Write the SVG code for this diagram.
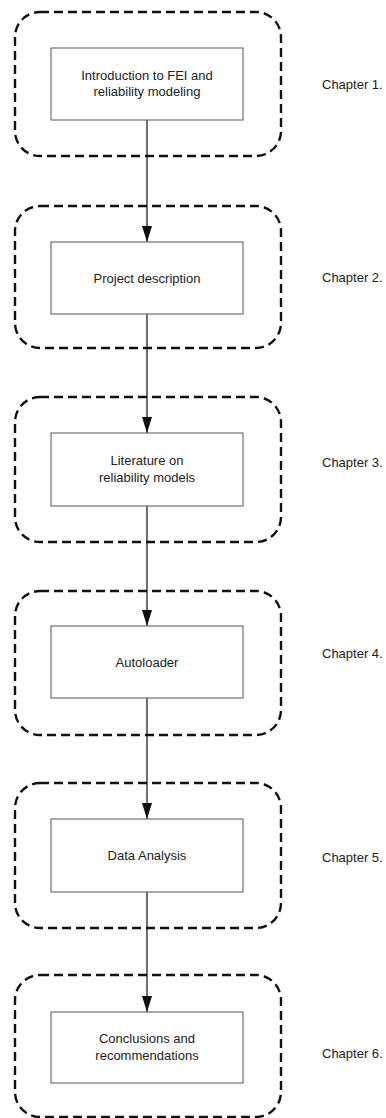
<svg xmlns="http://www.w3.org/2000/svg" width="386" height="1118" viewBox="0 0 386 1118">
  <defs>
    <style>
      .group { fill: none; stroke: #111; stroke-width: 2.4; stroke-dasharray: 9 5; }
      .box { fill: #fff; stroke: #555; stroke-width: 1; }
      .label { font-family: "Liberation Sans", Arial, sans-serif; font-size: 13px; fill: #222; text-anchor: middle; }
      .chapter { font-family: "Liberation Sans", Arial, sans-serif; font-size: 13px; fill: #222; }
      .flow { stroke: #111; stroke-width: 1.2; fill: none; marker-end: url(#arrow); }
    </style>
    <marker id="arrow" viewBox="0 0 16 10" refX="16" refY="5" markerWidth="16" markerHeight="10" markerUnits="userSpaceOnUse" orient="auto">
      <path d="M0,0 L16,5 L0,10 Z" fill="#111"/>
    </marker>
  </defs>
  <rect width="386" height="1118" fill="#fff"/>

  <!-- connectors between the chapter boxes -->
  <g id="connectors">
    <line class="flow" x1="147" y1="120" x2="147" y2="242"/>
    <line class="flow" x1="147" y1="314" x2="147" y2="433"/>
    <line class="flow" x1="147" y1="506" x2="147" y2="626"/>
    <line class="flow" x1="147" y1="698" x2="147" y2="819"/>
    <line class="flow" x1="147" y1="892" x2="147" y2="1012"/>
  </g>

  <g id="chapter1">
    <rect class="group" x="15" y="12" width="266" height="144" rx="25"/>
    <rect class="box" x="51" y="48" width="192" height="72"/>
    <text class="label" x="147" y="79.5">Introduction to FEI and</text>
    <text class="label" x="147" y="96">reliability modeling</text>
    <text class="chapter" x="322" y="88.5">Chapter 1.</text>
  </g>

  <g id="chapter2">
    <rect class="group" x="15" y="206" width="266" height="142" rx="25"/>
    <rect class="box" x="51" y="242" width="192" height="72"/>
    <text class="label" x="147" y="282.5">Project description</text>
    <text class="chapter" x="322" y="281.5">Chapter 2.</text>
  </g>

  <g id="chapter3">
    <rect class="group" x="15" y="397" width="266" height="145" rx="25"/>
    <rect class="box" x="51" y="433" width="192" height="73"/>
    <text class="label" x="147" y="465">Literature on</text>
    <text class="label" x="147" y="481.5">reliability models</text>
    <text class="chapter" x="322" y="466.5">Chapter 3.</text>
  </g>

  <g id="chapter4">
    <rect class="group" x="15" y="591" width="266" height="144" rx="25"/>
    <rect class="box" x="51" y="626" width="192" height="72"/>
    <text class="label" x="147" y="666.5">Autoloader</text>
    <text class="chapter" x="322" y="657.5">Chapter 4.</text>
  </g>

  <g id="chapter5">
    <rect class="group" x="15" y="783" width="266" height="145" rx="25"/>
    <rect class="box" x="51" y="819" width="192" height="73"/>
    <text class="label" x="147" y="860">Data Analysis</text>
    <text class="chapter" x="322" y="862">Chapter 5.</text>
  </g>

  <g id="chapter6">
    <rect class="group" x="15" y="975" width="266" height="142" rx="25"/>
    <rect class="box" x="51" y="1012" width="192" height="71"/>
    <text class="label" x="147" y="1043">Conclusions and</text>
    <text class="label" x="147" y="1059.5">recommendations</text>
    <text class="chapter" x="322" y="1058">Chapter 6.</text>
  </g>
</svg>
